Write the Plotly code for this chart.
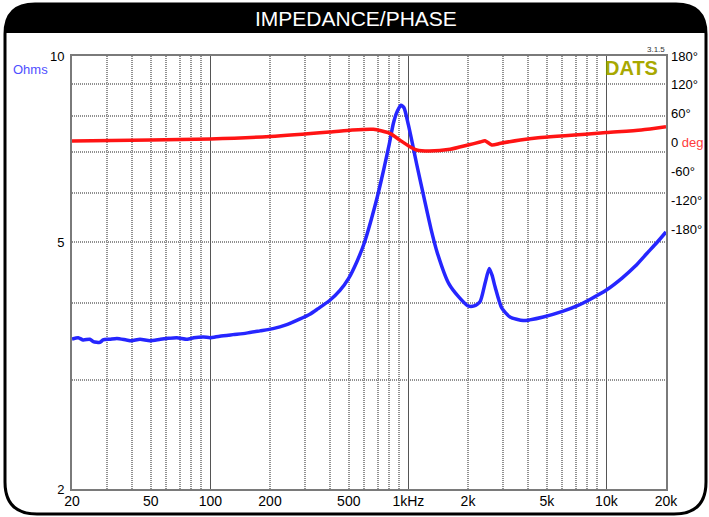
import math
import plotly.graph_objects as go

# ---------------- data ----------------
imp_freq_hz = [20, 21.5, 22.8, 24.6, 25.6, 27.7, 28.7, 31.1, 33.7, 37.6, 40, 44.1, 49.5, 55.9,
               60.3, 67.6, 76.4, 82.5, 92.4, 99.5, 111.5, 130, 152, 178, 207, 241, 282, 318,
               350, 400, 450, 500, 550, 600, 650, 700, 750, 800, 840, 880, 917, 950, 1000,
               1050, 1100, 1200, 1300, 1400, 1600, 1800, 2000, 2150, 2300, 2440, 2560, 2650,
               2740, 2960, 3260, 3800, 4100, 4800, 6000, 7100, 8300, 10000, 12000, 14000,
               16000, 18000, 20000]
imp_ohm = [3.49, 3.51, 3.48, 3.49, 3.46, 3.45, 3.48, 3.49, 3.50, 3.48, 3.47, 3.49, 3.47, 3.49,
           3.50, 3.51, 3.49, 3.51, 3.52, 3.51, 3.53, 3.55, 3.57, 3.60, 3.63, 3.68, 3.76, 3.83,
           3.91, 4.03, 4.18, 4.38, 4.66, 5.00, 5.45, 5.96, 6.55, 7.20, 7.79, 8.15, 8.33, 8.25, 7.74,
           7.20, 6.70, 5.90, 5.26, 4.81, 4.29, 4.08, 3.95, 3.95, 4.01, 4.30, 4.54, 4.42,
           4.24, 3.92, 3.79, 3.74, 3.75, 3.79, 3.87, 3.95, 4.05, 4.19, 4.38, 4.58,
           4.80, 5.00, 5.20]

phase_freq_hz = [20, 50, 100, 200, 400, 520, 665, 807, 903, 1029, 1101, 1277, 1625, 2002,
                 2300, 2438, 2640, 2920, 3670, 4525, 10000, 15000, 20000]
phase_deg = [3.3, 5.4, 7.5, 12.7, 22.0, 26.2, 27.6, 19.3, 5.4, -9.8, -15.4, -17.5, -13.9, -5.0,
             1.2, 4.0, -5.0, -1.5, 5.4, 10.2, 21.0, 26.2, 33.0]

x_tick_vals = [20, 50, 100, 200, 500, 1000, 2000, 5000, 10000, 20000]
x_tick_text = ["20", "50", "100", "200", "500", "1kHz", "2k", "5k", "10k", "20k"]
x_light_grid = [30, 40, 50, 60, 70, 80, 90, 200, 300, 400, 500, 600, 700, 800, 900,
                2000, 3000, 4000, 5000, 6000, 7000, 8000, 9000]
x_decade_grid = [100, 1000, 10000]
y_tick_vals = [2, 5, 10]
y_tick_text = ["2", "5", "10"]
y_light_grid = [3, 4, 5, 6, 7, 8, 9]
phase_tick_vals = [180, 120, 60, 0, -60, -120, -180]
phase_tick_text = ["180°", "120°", "60°", "0 <span style='color:#ff3b3b'>deg</span>",
                   "-60°", "-120°", "-180°"]

# ---------------- layout geometry ----------------
W, H = 709, 517
L, R, T, B = 72, 666, 56, 489
FONT = "Liberation Sans, Arial, sans-serif"


def px(x):
    return (x - L) / (R - L)


def py(y):
    return (B - y) / (B - T)


def path(points):
    out = []
    for p in points:
        if p[0] == "Z":
            out.append("Z")
        elif p[0] == "Q":
            out.append(f"Q{px(p[1]):.5f},{py(p[2]):.5f} {px(p[3]):.5f},{py(p[4]):.5f}")
        else:
            out.append(f"{p[0]}{px(p[1]):.5f},{py(p[2]):.5f}")
    return " ".join(out)


fx0, fx1, fy0, fy1 = 5, 706, 4, 514
rt, rb = 30, 32
frame_path = path([("M", fx0, fy0 + rt), ("Q", fx0, fy0, fx0 + rt, fy0), ("L", fx1 - rt, fy0),
                   ("Q", fx1, fy0, fx1, fy0 + rt), ("L", fx1, fy1 - rb),
                   ("Q", fx1, fy1, fx1 - rb, fy1), ("L", fx0 + rb, fy1),
                   ("Q", fx0, fy1, fx0, fy1 - rb), ("Z",)])
bar_path = path([("M", fx0, 33), ("Q", fx0, fy0, fx0 + rt, fy0), ("L", fx1 - rt, fy0),
                 ("Q", fx1, fy0, fx1, 33), ("Z",)])

fig = go.Figure()
fig.add_trace(go.Scatter(x=phase_freq_hz, y=phase_deg, yaxis="y2", mode="lines",
                         line=dict(color="#ff1414", width=3.5, shape="spline", smoothing=0.6),
                         hoverinfo="skip", showlegend=False))
fig.add_trace(go.Scatter(x=imp_freq_hz, y=imp_ohm, mode="lines",
                         line=dict(color="#2626ff", width=3.5, shape="spline", smoothing=0.6),
                         hoverinfo="skip", showlegend=False))
# carrier for the decade grid axis
fig.add_trace(go.Scatter(x=[20, 20000], y=[2, 2], xaxis="x2", mode="lines",
                         line=dict(width=0, color="rgba(0,0,0,0)"), hoverinfo="skip",
                         showlegend=False))

grid_col = "#909090"
fig.update_layout(
    width=W, height=H,
    margin=dict(l=L, r=W - R, t=T, b=H - B),
    paper_bgcolor="white", plot_bgcolor="white",
    font=dict(family=FONT, size=14, color="black"),
    xaxis=dict(type="log", range=[math.log10(20), math.log10(20000)], automargin=False,
               tickmode="array", tickvals=x_tick_vals, ticktext=x_tick_text,
               ticks="", showgrid=False, zeroline=False,
               showline=True, linecolor="#7a7a7a", linewidth=2, mirror=True,
               tickfont=dict(size=14), ticklabelstandoff=-2,
               minor=dict(tickmode="array", tickvals=x_light_grid, showgrid=True,
                          gridcolor=grid_col, griddash="1px,1px", gridwidth=2, ticks="")),
    xaxis2=dict(type="log", range=[math.log10(20), math.log10(20000)], overlaying="x",
                anchor="y", tickmode="array", tickvals=x_decade_grid, showticklabels=False,
                automargin=False,
                ticks="", showgrid=True, gridcolor="#555555", gridwidth=1, zeroline=False,
                showline=False),
    yaxis=dict(type="log", range=[math.log10(2), 1], tickmode="array", automargin=False,
               tickvals=y_tick_vals, ticktext=y_tick_text, ticks="", showgrid=False,
               zeroline=False, showline=True, linecolor="#7a7a7a", linewidth=2, mirror=True,
               tickfont=dict(size=13), ticklabelstandoff=3,
               minor=dict(tickmode="array", tickvals=y_light_grid, showgrid=True,
                          gridcolor=grid_col, griddash="1px,1px", gridwidth=2, ticks="")),
    yaxis2=dict(range=[-720, 180], overlaying="y", side="right", tickmode="array",
                automargin=False,
                tickvals=phase_tick_vals, ticktext=phase_tick_text, ticks="",
                showgrid=False, zeroline=False, showline=False,
                tickfont=dict(size=13), ticklabelstandoff=4),
    shapes=[
        dict(type="path", xref="paper", yref="paper", path=bar_path,
             fillcolor="black", line=dict(width=0), layer="above"),
        dict(type="path", xref="paper", yref="paper", path=frame_path,
             fillcolor="rgba(0,0,0,0)", line=dict(color="black", width=3), layer="above"),
    ],
    annotations=[
        dict(text="IMPEDANCE/PHASE", xref="paper", yref="paper", x=px(356), y=py(19),
             showarrow=False, font=dict(family=FONT, size=21, color="white"),
             xanchor="center", yanchor="middle"),
        dict(text="Ohms", xref="paper", yref="paper", x=px(30), y=py(69),
             showarrow=False, font=dict(family=FONT, size=13, color="#4f4fff"),
             xanchor="center", yanchor="middle"),
        dict(text="<b>DATS</b>", xref="paper", yref="paper", x=px(631), y=py(68),
             showarrow=False, font=dict(family=FONT, size=20, color="#a8a800"),
             xanchor="center", yanchor="middle"),
        dict(text="3.1.5", xref="paper", yref="paper", x=px(656), y=py(50),
             showarrow=False, font=dict(family=FONT, size=8, color="#333333"),
             xanchor="center", yanchor="middle"),
    ],
)

fig.write_html("out.html", config={"displayModeBar": False},
               post_script="document.body.style.margin='0';"
                           "document.body.style.padding='0';"
                           "document.documentElement.style.overflow='hidden';")
